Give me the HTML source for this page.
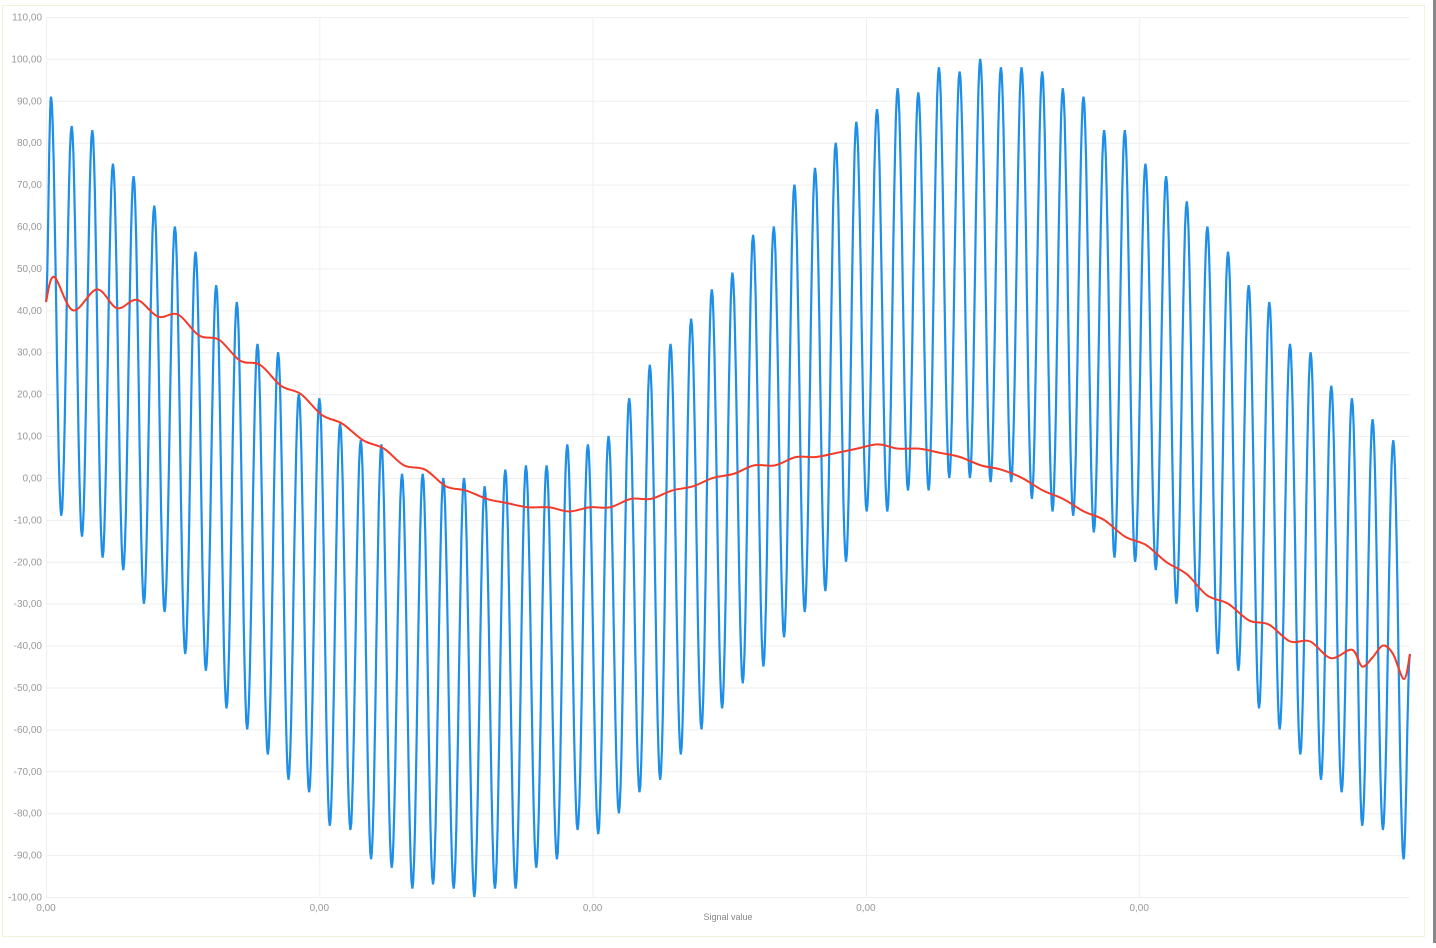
<!DOCTYPE html>
<html><head><meta charset="utf-8"><style>
body{margin:0;background:#fff;width:1436px;height:943px;overflow:hidden;font-family:"Liberation Sans",sans-serif}
</style></head><body>
<svg id="chart" width="1436" height="943" xmlns="http://www.w3.org/2000/svg">
<rect x="2.5" y="5.5" width="1422" height="931" fill="#fff" stroke="#f3f1d8"/>
<rect x="1433" y="0" width="3" height="943" fill="#888"/>
<g id="grid"></g>
<g id="ylab"></g>
<g id="xlab"></g>
<text x="728" y="920" font-size="9" fill="#888" text-anchor="middle">Signal value</text>
<path id="blue" fill="none" stroke="#1e8fe8" stroke-width="2.2"/>
<path id="red" fill="none" stroke="#f43b2a" stroke-width="2"/>
</svg>
<script>
const yTicks=[110,100,90,80,70,60,50,40,30,20,10,0,-10,-20,-30,-40,-50,-60,-70,-80,-90,-100];
const xTickLabels=["0,00","0,00","0,00","0,00","0,00"];
const blueStart=42, blueEnd=-42;
const bluePeaks=[91,84,83,75,72,65,60,54,46,42,32,30,20,19,13,9,8,1,1,0,0,-2,2,3,3,8,8,10,19,27,32,38,45,49,58,60,70,74,80,85,88,93,92,98,97,100,98,98,97,93,91,83,83,75,72,66,60,54,46,42,32,30,22,19,14,9];
const blueTroughs=[-9,-14,-19,-22,-30,-32,-42,-46,-55,-60,-66,-72,-75,-83,-84,-91,-93,-98,-97,-98,-100,-98,-98,-93,-91,-84,-85,-80,-75,-72,-66,-60,-55,-49,-45,-38,-32,-27,-20,-8,-8,-3,-3,0,0,-1,-1,-5,-8,-9,-13,-19,-20,-22,-30,-32,-42,-46,-55,-60,-66,-72,-75,-83,-84,-91];
const redPos=[0,8,27,51,71,91,112,132,153,173,194,214,235,255,276,296,317,338,358,379,400,420,441,461,482,503,523,544,564,585,605,626,647,667,688,708,729,750,770,791,811,832,852,873,894,914,935,955,976,997,1017,1038,1058,1079,1100,1120,1141,1161,1182,1203,1223,1244,1264,1285,1306,1316,1326,1337,1347,1358,1364];
const redVal=[42,48,40,45,40.5,42.5,38.5,39,34,33,28,27,22,20,15,13,9,7,3,2,-2,-3,-5,-6,-7,-7,-8,-7,-7,-5,-5,-3,-2,0,1,3,3,5,5,6,7,8,7,7,6,5,3,2,0,-3,-5,-8,-10,-14,-16,-20,-23,-28,-30,-34,-35,-39,-39,-43,-41,-45,-43,-40,-42,-48,-42];
const X0=46,X1=1410,Y0=897,Y1=17;
const xs=p=>X0+p*(X1-X0)/1364;
const ys=v=>Y0-(v+100)*(Y0-Y1)/210;
const NS="http://www.w3.org/2000/svg";
const grid=document.getElementById('grid'),yl=document.getElementById('ylab'),xl=document.getElementById('xlab');
yTicks.forEach(v=>{
 const l=document.createElementNS(NS,'line');
 
 
 l.setAttribute('x1',X0);l.setAttribute('x2',X1);l.setAttribute('y1',ys(v)+.5);l.setAttribute('y2',ys(v)+.5);
 l.setAttribute('stroke','#efefef');grid.appendChild(l);
 const t=document.createElementNS(NS,'text');
 
 
 t.setAttribute('x',42);t.setAttribute('y',ys(v)+3.5);t.setAttribute('text-anchor','end');
 t.setAttribute('font-size','10');t.setAttribute('fill','#999');
 t.textContent=v.toFixed(2).replace('.',',');yl.appendChild(t);
});
xTickLabels.forEach((s,i)=>{
 const x=X0+i*273.3;
 const l=document.createElementNS(NS,'line');
 
 
 l.setAttribute('x1',x+.5);l.setAttribute('x2',x+.5);l.setAttribute('y1',Y1);l.setAttribute('y2',Y0);
 l.setAttribute('stroke','#efefef');grid.appendChild(l);
 const t=document.createElementNS(NS,'text');
 
 
 t.setAttribute('x',x);t.setAttribute('y',911);t.setAttribute('text-anchor','middle');
 t.setAttribute('font-size','10');t.setAttribute('fill','#999');
 t.textContent=s;xl.appendChild(t);
});
const ext=[[0,blueStart]];
const step=10.325;
for(let i=0;i<bluePeaks.length;i++){
 ext.push([5+2*i*step,bluePeaks[i]]);
 if(i<blueTroughs.length) ext.push([5+(2*i+1)*step,blueTroughs[i]]);
}
ext.push([1364,blueEnd]);
let d='';
for(let k=0;k<ext.length-1;k++){
 const [p0,v0]=ext[k],[p1,v1]=ext[k+1];
 for(let s=0;s<=12;s++){
  const f=s/12,w=(1-Math.cos(Math.PI*f))/2;
  const x=xs(p0+(p1-p0)*f),y=ys(v0+(v1-v0)*w);
  d+=(d?'L':'M')+x.toFixed(1)+' '+y.toFixed(1);
 }
}
document.getElementById('blue').setAttribute('d',d);
const P=redPos.map((p,i)=>[xs(p),ys(redVal[i])]);
let r='M'+P[0][0]+' '+P[0][1];
for(let i=0;i<P.length-1;i++){
 const a=P[Math.max(0,i-1)],b=P[i],c=P[i+1],e=P[Math.min(P.length-1,i+2)];
 r+='C'+(b[0]+(c[0]-a[0])/6)+' '+(b[1]+(c[1]-a[1])/6)+','+(c[0]-(e[0]-b[0])/6)+' '+(c[1]-(e[1]-b[1])/6)+','+c[0]+' '+c[1];
}
document.getElementById('red').setAttribute('d',r);
</script>
</body></html>
